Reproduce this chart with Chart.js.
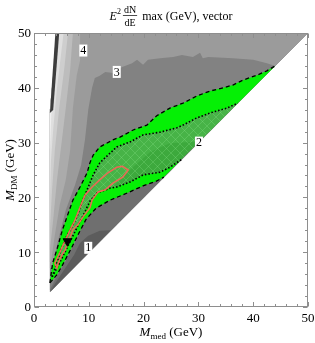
<!DOCTYPE html>
<html>
<head>
<meta charset="utf-8">
<script src="https://cdn.jsdelivr.net/npm/chart.js@4.4.1/dist/chart.umd.min.js"></script>
<style>
  html, body { margin: 0; padding: 0; background: #fff; }
  #wrap { width: 315px; height: 343px; }
</style>
</head>
<body>
<div id="wrap"><canvas id="chart" width="315" height="343"></canvas></div>
<script>
// axes
const xTicks = [0, 10, 20, 30, 40, 50];
const yTicks = [0, 10, 20, 30, 40, 50];
const minorStep = 2;

// contour regions as [M_med, M_DM] pairs
const domain = [[2.9, 2.7], [50, 50], [4.2, 50], [2.9, 36]];
const level0 = [[2.9, 2.7], [14.0, 14.0], [12.0, 13.9], [9.9, 13.0], [8.4, 11.7], [7.3, 9.5], [5.5, 6.8], [3.8, 4.2]];
const contour2 = [[30.2, 30.2], [24.8, 29.9], [21.2, 28.3], [17.5, 25.0], [14.8, 22.3], [12.0, 20.1], [10.2, 17.7],
  [8.9, 15.0], [7.7, 12.2], [5.7, 8.2], [3.8, 4.9], [2.9, 3.1]];
const contour3 = [[3.3, 7.1], [4.4, 12.2], [5.8, 17.7], [7.5, 22.3], [8.6, 25.9], [9.3, 30.5], [9.9, 36.0], [10.6, 40.0],
  [11.1, 41.8], [12.0, 42.2], [13.0, 42.9], [14.4, 42.7], [16.1, 43.8], [17.9, 44.5], [18.8, 45.1], [19.9, 44.2],
  [20.8, 45.1], [23.0, 45.4], [25.4, 45.6], [27.0, 46.0], [29.0, 45.6], [30.3, 46.4], [30.8, 45.4], [31.8, 45.6],
  [36.3, 45.4], [40.0, 45.1], [42.5, 44.5], [44.0, 44.0]];
const contour4 = [[3.1, 8.2], [3.8, 13.1], [4.7, 18.6], [5.8, 23.2], [6.6, 28.6], [7.1, 36.3], [7.8, 42.3], [8.4, 45.0], [8.4, 50]];
const contour5 = [[2.9, 10.4], [3.5, 15.9], [4.2, 23.2], [5.1, 30.5], [5.8, 36.3], [6.6, 43.3], [7.1, 50]];
const contour6 = [[2.9, 14.1], [3.3, 21.4], [3.8, 28.6], [4.6, 36.3], [5.5, 43.3], [6.2, 50]];
const contour7 = [[2.9, 19.5], [3.1, 26.8], [3.5, 32.3], [4.2, 40.0], [5.4, 50]];
const contour8 = [[2.9, 28.6], [3.2, 36.0], [3.8, 43.0], [4.7, 50]];
const edgeStripe = [[2.9, 35.4], [3.5, 35.95], [4.6, 50], [3.9, 50]];

// green band borders
const upperOuter = [[2.9, 4.4], [3.4, 8.0], [4.3, 10.9], [5.2, 14.1], [6.0, 16.4], [7.1, 19.5], [8.4, 21.9], [9.7, 24.5],
  [10.2, 26.3], [10.8, 27.7], [12.0, 29.2], [14.4, 30.5], [15.7, 31.0], [18.1, 32.3], [20.6, 33.2], [22.4, 34.9],
  [24.8, 36.3], [27.2, 37.2], [29.7, 38.5], [32.1, 39.4], [34.5, 40.0], [36.3, 40.5], [38.1, 41.4], [40.7, 42.3],
  [42.5, 43.1], [44.0, 44.0]];
const lowerOuter = [[2.9, 4.4], [4.2, 5.9], [5.5, 8.2], [6.9, 10.9], [8.2, 13.5], [9.5, 16.0], [11.3, 18.0], [13.9, 19.5],
  [17.0, 20.8], [19.9, 22.1], [22.4, 23.0], [23.7, 23.7]];
const upperInner = [[3.3, 5.5], [4.0, 7.5], [4.9, 10.4], [6.0, 13.0], [6.9, 14.6], [7.8, 16.4], [8.9, 19.5], [9.9, 21.9],
  [10.8, 24.1], [12.0, 26.3], [13.9, 28.1], [15.1, 29.2], [17.5, 30.1], [19.9, 31.4], [23.0, 31.9], [26.1, 32.7],
  [27.2, 33.2], [29.7, 34.5], [32.1, 35.4], [35.2, 36.3], [37.2, 37.2]];
const lowerInner = [[3.3, 5.5], [4.4, 7.5], [5.6, 9.9], [6.8, 12.4], [8.0, 14.8], [9.2, 17.2], [10.2, 19.3], [11.5, 20.8],
  [13.9, 21.7], [15.1, 21.9], [17.5, 22.8], [19.9, 24.1], [23.0, 24.6], [24.8, 25.5], [26.9, 26.9]];

// red closed contour
const redLoop = [[16.1, 25.7], [17.2, 25.0], [16.2, 23.7], [14.4, 22.6], [13.0, 21.4], [11.7, 21.0], [10.6, 19.5],
  [10.2, 18.1], [8.9, 16.4], [8.0, 15.0], [7.1, 14.1], [6.6, 12.8], [6.0, 11.3], [5.7, 10.4], [5.1, 9.5], [4.4, 8.0],
  [4.2, 7.1], [3.8, 8.0], [4.7, 9.9], [5.3, 11.3], [6.0, 12.8], [6.6, 14.1], [7.5, 15.9], [8.4, 18.2], [9.3, 20.4],
  [10.6, 21.9], [12.0, 23.2], [13.5, 24.5], [15.1, 25.5], [16.1, 25.7]];

const bestFit = [[6.1, 12.0]];

const levelLabels = ['1', '2', '3', '4'];
const levelLabelPos = [[9.9, 10.8], [30.1, 30.0], [15.1, 42.9], [9.0, 46.8]];

const SERIF = '"Liberation Serif", "Times New Roman", serif';
const toXY = pts => pts.map(([x, y]) => ({x, y}));

// cross hatching of the inner band
const hatchCanvas = document.createElement('canvas');
hatchCanvas.width = hatchCanvas.height = 9;
const hc = hatchCanvas.getContext('2d');
hc.strokeStyle = 'rgba(150,240,150,0.3)';
hc.lineWidth = 0.8;
hc.beginPath();
hc.moveTo(0, 0); hc.lineTo(9, 9);
hc.moveTo(9, 0); hc.lineTo(0, 9);
hc.stroke();

function region(label, pts, fills, hole) {
  return {type: 'scatter', label, data: toXY(pts), showLine: false, pointRadius: 0, polyFill: fills, hole};
}
function curve(label, pts, color, width, dash, order) {
  return {type: 'scatter', label, data: toXY(pts), showLine: true, borderColor: color, borderWidth: width,
    borderDash: dash, pointRadius: 0, fill: false, tension: 0, order: order};
}

const datasets = [
  region('domain', domain, ['#6f6f6f']),
  region('<1', level0, ['#5c5c5c']),
  region('>2', contour2.concat([[2.9, 36], [4.2, 50], [50, 50]]), ['#828282']),
  region('>3', contour3.concat([[50, 50], [4.2, 50], [2.9, 36], [2.9, 7.1]]), ['#9b9b9b']),
  region('>4', contour4.concat([[4.2, 50], [2.9, 36], [2.9, 8.2]]), ['#ababab']),
  region('>5', contour5.concat([[4.2, 50], [2.9, 36]]), ['#bdbdbd']),
  region('>6', contour6.concat([[4.2, 50], [2.9, 36]]), ['#cecece']),
  region('>7', contour7.concat([[4.2, 50], [2.9, 36]]), ['#dfdfdf']),
  region('>8', contour8.concat([[4.2, 50], [2.9, 36]]), ['#efefef']),
  region('stripe', edgeStripe, ['#3d3d3d']),
  region('inner band', upperInner.concat(lowerInner.slice().reverse()), ['rgba(0,240,0,0.45)', 'hatch']),
  region('outer band', upperOuter.concat(lowerOuter.slice().reverse()), ['#05f005'], 'inner band'),
  curve('upper outer', upperOuter, '#000', 1.3, [4, 3], 3),
  curve('lower outer', lowerOuter, '#000', 1.3, [4, 3], 3),
  curve('upper inner', upperInner, '#000', 1.6, [1.5, 2], 3),
  curve('lower inner', lowerInner, '#000', 1.6, [1.5, 2], 3),
  curve('red', redLoop, '#ee6655', 1.5, [], 2),
  {type: 'scatter', label: 'best', data: toXY(bestFit), pointStyle: 'triangle', rotation: 180, pointRadius: 5,
    backgroundColor: '#000', borderColor: '#000', order: 1}
];

function tracePath(ctx, pts) {
  pts.forEach((p, i) => i ? ctx.lineTo(p.x, p.y) : ctx.moveTo(p.x, p.y));
  ctx.closePath();
}

const regionPlugin = {
  id: 'regions',
  beforeDatasetsDraw(chart) {
    const {ctx, chartArea: a} = chart;
    const pattern = ctx.createPattern(hatchCanvas, 'repeat');
    ctx.save();
    ctx.beginPath();
    ctx.rect(a.left, a.top, a.right - a.left, a.bottom - a.top);
    ctx.clip();
    chart.data.datasets.forEach((ds, i) => {
      if (!ds.polyFill) return;
      ctx.beginPath();
      tracePath(ctx, chart.getDatasetMeta(i).data);
      if (ds.hole) {
        const j = chart.data.datasets.findIndex(d => d.label === ds.hole);
        tracePath(ctx, chart.getDatasetMeta(j).data);
      }
      ds.polyFill.forEach(f => {
        ctx.fillStyle = f === 'hatch' ? pattern : f;
        ctx.fill('evenodd');
      });
    });
    ctx.restore();
  }
};

function richWidth(ctx, parts) {
  return parts.reduce((w, p) => { ctx.font = p.font; return w + ctx.measureText(p.t).width; }, 0);
}
function drawRich(ctx, parts, x, y) {
  parts.forEach(p => {
    ctx.font = p.font;
    ctx.fillText(p.t, x, y + (p.dy || 0));
    x += ctx.measureText(p.t).width;
  });
}

const framePlugin = {
  id: 'frame',
  afterDatasetsDraw(chart) {
    const {ctx, chartArea: a, scales: {x, y}} = chart;
    ctx.save();
    // contour level labels
    ctx.font = '12px ' + SERIF;
    ctx.textAlign = 'center';
    ctx.textBaseline = 'middle';
    levelLabels.forEach((t, i) => {
      const px = x.getPixelForValue(levelLabelPos[i][0]);
      const py = y.getPixelForValue(levelLabelPos[i][1]);
      const w = ctx.measureText(t).width + 2;
      ctx.fillStyle = '#fff';
      ctx.fillRect(px - w / 2, py - 6, w, 12);
      ctx.fillStyle = '#000';
      ctx.fillText(t, px, py + 0.5);
    });

    // frame and inward ticks
    const L = Math.round(a.left) + 0.5, R = Math.round(a.right) - 0.5;
    const T = Math.round(a.top) + 0.5, B = Math.round(a.bottom) - 0.5;
    ctx.strokeStyle = '#8e8e8e';
    ctx.lineWidth = 1;
    ctx.strokeRect(L, T, R - L, B - T);
    ctx.beginPath();
    for (let v = 0; v <= 50; v += minorStep) {
      const len = v % 10 === 0 ? 4.5 : 2.5;
      const px = Math.round(x.getPixelForValue(v)) + 0.5;
      const py = Math.round(y.getPixelForValue(v)) + 0.5;
      ctx.moveTo(px, B); ctx.lineTo(px, B - len);
      ctx.moveTo(px, T); ctx.lineTo(px, T + len);
      ctx.moveTo(L, py); ctx.lineTo(L + len, py);
      ctx.moveTo(R, py); ctx.lineTo(R - len, py);
    }
    ctx.stroke();

    // tick labels
    ctx.fillStyle = '#000';
    ctx.font = '13px ' + SERIF;
    ctx.textAlign = 'center';
    ctx.textBaseline = 'alphabetic';
    xTicks.forEach(v => ctx.fillText(String(v), x.getPixelForValue(v), a.bottom + 15));
    ctx.textAlign = 'right';
    ctx.textBaseline = 'middle';
    yTicks.forEach(v => ctx.fillText(String(v), a.left - 3, y.getPixelForValue(v) + 1));

    // axis titles
    ctx.textAlign = 'left';
    ctx.textBaseline = 'alphabetic';
    const xTitle = [{t: 'M', font: 'italic 13px ' + SERIF}, {t: 'med', font: '9px ' + SERIF, dy: 3},
      {t: ' (GeV)', font: '13px ' + SERIF}];
    const cx = (a.left + a.right) / 2;
    drawRich(ctx, xTitle, cx - richWidth(ctx, xTitle) / 2, a.bottom + 29);

    const yTitle = [{t: 'M', font: 'italic 13px ' + SERIF}, {t: 'DM', font: '9px ' + SERIF, dy: 3},
      {t: ' (GeV)', font: '13px ' + SERIF}];
    const cy = (a.top + a.bottom) / 2;
    ctx.save();
    ctx.translate(14, cy);
    ctx.rotate(-Math.PI / 2);
    drawRich(ctx, yTitle, -richWidth(ctx, yTitle) / 2, 0);
    ctx.restore();

    // title: E^2 dN/dE max (GeV), vector
    const fE = 'italic 12px ' + SERIF, f2 = '8px ' + SERIF, fFrac = '10px ' + SERIF, fMain = '12px ' + SERIF;
    ctx.font = fE; const wE = ctx.measureText('E').width;
    ctx.font = f2; const w2 = ctx.measureText('2').width;
    ctx.font = fFrac; const wF = Math.max(ctx.measureText('dN').width, ctx.measureText('dE').width) + 2;
    ctx.font = fMain; const wM = ctx.measureText(' max (GeV), vector').width;
    let tx = cx - (wE + w2 + 2 + wF + 2 + wM) / 2;
    const base = 20;
    ctx.font = fE; ctx.fillText('E', tx, base); tx += wE;
    ctx.font = f2; ctx.fillText('2', tx, base - 6); tx += w2 + 2;
    ctx.font = fFrac; ctx.textAlign = 'center';
    ctx.fillText('dN', tx + wF / 2, 13);
    ctx.fillText('dE', tx + wF / 2, 26);
    ctx.strokeStyle = '#000'; ctx.lineWidth = 0.7;
    ctx.beginPath(); ctx.moveTo(tx, 15.5); ctx.lineTo(tx + wF, 15.5); ctx.stroke();
    tx += wF + 2;
    ctx.textAlign = 'left';
    ctx.font = fMain; ctx.fillText(' max (GeV), vector', tx, base);
    ctx.restore();
  }
};

new Chart(document.getElementById('chart'), {
  type: 'scatter',
  data: {datasets},
  options: {
    responsive: false,
    animation: false,
    events: [],
    layout: {padding: {left: 34, top: 33, right: 7, bottom: 36}},
    scales: {
      x: {type: 'linear', min: 0, max: 50, display: false},
      y: {type: 'linear', min: 0, max: 50, display: false}
    },
    plugins: {legend: {display: false}, tooltip: {enabled: false}}
  },
  plugins: [regionPlugin, framePlugin]
});
</script>
</body>
</html>
